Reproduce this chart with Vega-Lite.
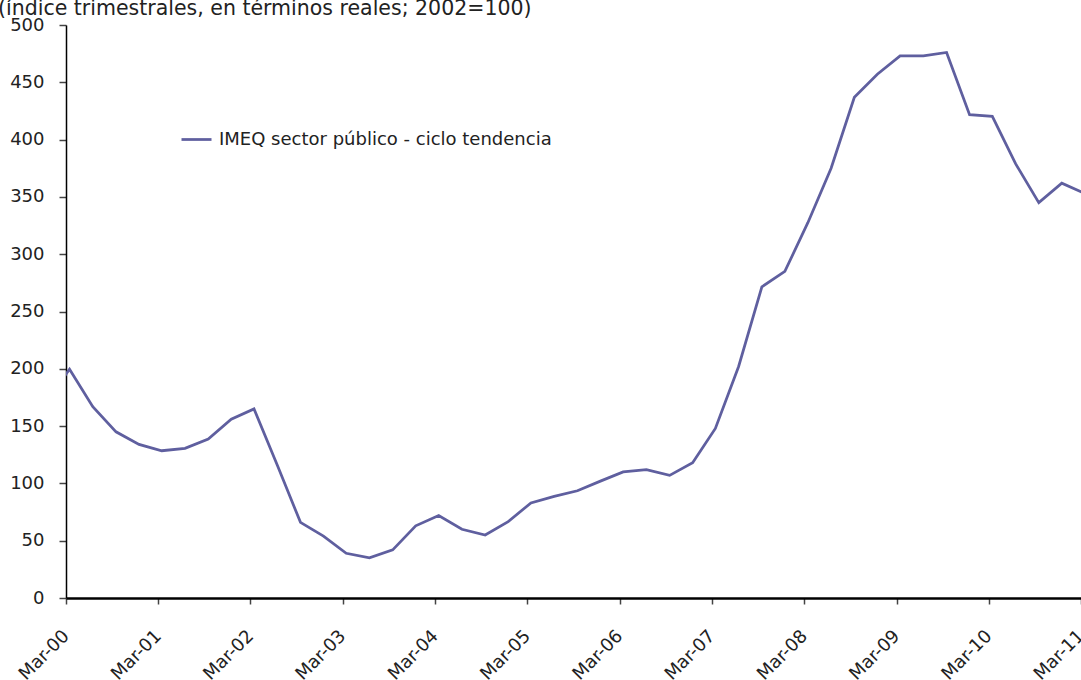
{
  "$schema": "https://vega.github.io/schema/vega-lite/v6.json",
  "width": 1015,
  "height": 573,
  "autosize": {"type": "none"},
  "padding": {"left": 66, "top": 25, "right": 0, "bottom": 82},
  "background": "white",
  "title": {
    "text": "(índice trimestrales, en términos reales; 2002=100)",
    "anchor": "start",
    "frame": "group",
    "dx": -68,
    "offset": -3,
    "fontSize": 20.5,
    "font": "DejaVu Sans",
    "fontWeight": "normal",
    "color": "#222222"
  },
  "config": {"view": {"stroke": null}},
  "data": {
    "values": [
      {"date": "1999-12-15", "value": 172},
      {"date": "2000-03-15", "value": 199.6},
      {"date": "2000-06-15", "value": 167},
      {"date": "2000-09-15", "value": 145},
      {"date": "2000-12-15", "value": 134},
      {"date": "2001-03-15", "value": 128.5},
      {"date": "2001-06-15", "value": 130.6},
      {"date": "2001-09-15", "value": 138.7},
      {"date": "2001-12-15", "value": 156},
      {"date": "2002-03-15", "value": 165},
      {"date": "2002-06-15", "value": 116},
      {"date": "2002-09-15", "value": 66},
      {"date": "2002-12-15", "value": 54},
      {"date": "2003-03-15", "value": 39},
      {"date": "2003-06-15", "value": 35},
      {"date": "2003-09-15", "value": 42},
      {"date": "2003-12-15", "value": 63},
      {"date": "2004-03-15", "value": 72},
      {"date": "2004-06-15", "value": 60},
      {"date": "2004-09-15", "value": 55},
      {"date": "2004-12-15", "value": 66.6},
      {"date": "2005-03-15", "value": 83},
      {"date": "2005-06-15", "value": 88.7},
      {"date": "2005-09-15", "value": 93.6},
      {"date": "2005-12-15", "value": 102},
      {"date": "2006-03-15", "value": 110},
      {"date": "2006-06-15", "value": 112},
      {"date": "2006-09-15", "value": 107},
      {"date": "2006-12-15", "value": 118},
      {"date": "2007-03-15", "value": 148},
      {"date": "2007-06-15", "value": 202},
      {"date": "2007-09-15", "value": 271.6},
      {"date": "2007-12-15", "value": 285},
      {"date": "2008-03-15", "value": 327.5},
      {"date": "2008-06-15", "value": 375},
      {"date": "2008-09-15", "value": 437},
      {"date": "2008-12-15", "value": 457},
      {"date": "2009-03-15", "value": 473},
      {"date": "2009-06-15", "value": 473},
      {"date": "2009-09-15", "value": 476},
      {"date": "2009-12-15", "value": 421.7},
      {"date": "2010-03-15", "value": 420.3},
      {"date": "2010-06-15", "value": 379},
      {"date": "2010-09-15", "value": 345},
      {"date": "2010-12-15", "value": 362},
      {"date": "2011-03-15", "value": 353}
    ]
  },
  "mark": {"type": "line", "strokeWidth": 2.75, "clip": true},
  "encoding": {
    "x": {
      "field": "date",
      "type": "temporal",
      "scale": {
        "type": "utc",
        "domain": [
          {"year": 2000, "month": 3, "date": 1, "utc": true},
          {"year": 2011, "month": 3, "date": 1, "utc": true}
        ]
      },
      "axis": {
        "title": null,
        "grid": false,
        "values": [
          {"year": 2000, "month": 3, "date": 1, "utc": true},
          {"year": 2001, "month": 3, "date": 1, "utc": true},
          {"year": 2002, "month": 3, "date": 1, "utc": true},
          {"year": 2003, "month": 3, "date": 1, "utc": true},
          {"year": 2004, "month": 3, "date": 1, "utc": true},
          {"year": 2005, "month": 3, "date": 1, "utc": true},
          {"year": 2006, "month": 3, "date": 1, "utc": true},
          {"year": 2007, "month": 3, "date": 1, "utc": true},
          {"year": 2008, "month": 3, "date": 1, "utc": true},
          {"year": 2009, "month": 3, "date": 1, "utc": true},
          {"year": 2010, "month": 3, "date": 1, "utc": true},
          {"year": 2011, "month": 3, "date": 1, "utc": true}
        ],
        "labelExpr": "utcFormat(datum.value, '%b-%y')",
        "labelAngle": -45,
        "labelAlign": "right",
        "labelBaseline": "middle",
        "labelFont": "DejaVu Sans",
        "labelFontSize": 18,
        "labelColor": "#222222",
        "labelPadding": 29,
        "labelDx": 5,
        "labelOverlap": false,
        "labelBound": false,
        "labelFlush": false,
        "domainColor": "#000000",
        "domainWidth": 2.5,
        "tickColor": "#444444",
        "tickSize": 6,
        "tickWidth": 1.5
      }
    },
    "y": {
      "field": "value",
      "type": "quantitative",
      "scale": {"domain": [0, 500], "nice": false, "zero": true},
      "axis": {
        "title": null,
        "grid": false,
        "values": [0, 50, 100, 150, 200, 250, 300, 350, 400, 450, 500],
        "labelFont": "DejaVu Sans",
        "labelFontSize": 18,
        "labelColor": "#222222",
        "labelPadding": 15,
        "domainColor": "#000000",
        "domainWidth": 1.5,
        "tickColor": "#444444",
        "tickSize": 7,
        "tickWidth": 1.5
      }
    },
    "color": {
      "datum": "IMEQ sector público - ciclo tendencia",
      "type": "nominal",
      "scale": {"range": ["#5f5f9f"]},
      "legend": {
        "title": null,
        "orient": "none",
        "legendX": 114,
        "legendY": 98,
        "symbolType": "stroke",
        "symbolSize": 900,
        "symbolStrokeWidth": 2.75,
        "labelFont": "DejaVu Sans",
        "labelFontSize": 18,
        "labelColor": "#222222",
        "labelOffset": 6,
        "labelLimit": 600
      }
    }
  }
}
